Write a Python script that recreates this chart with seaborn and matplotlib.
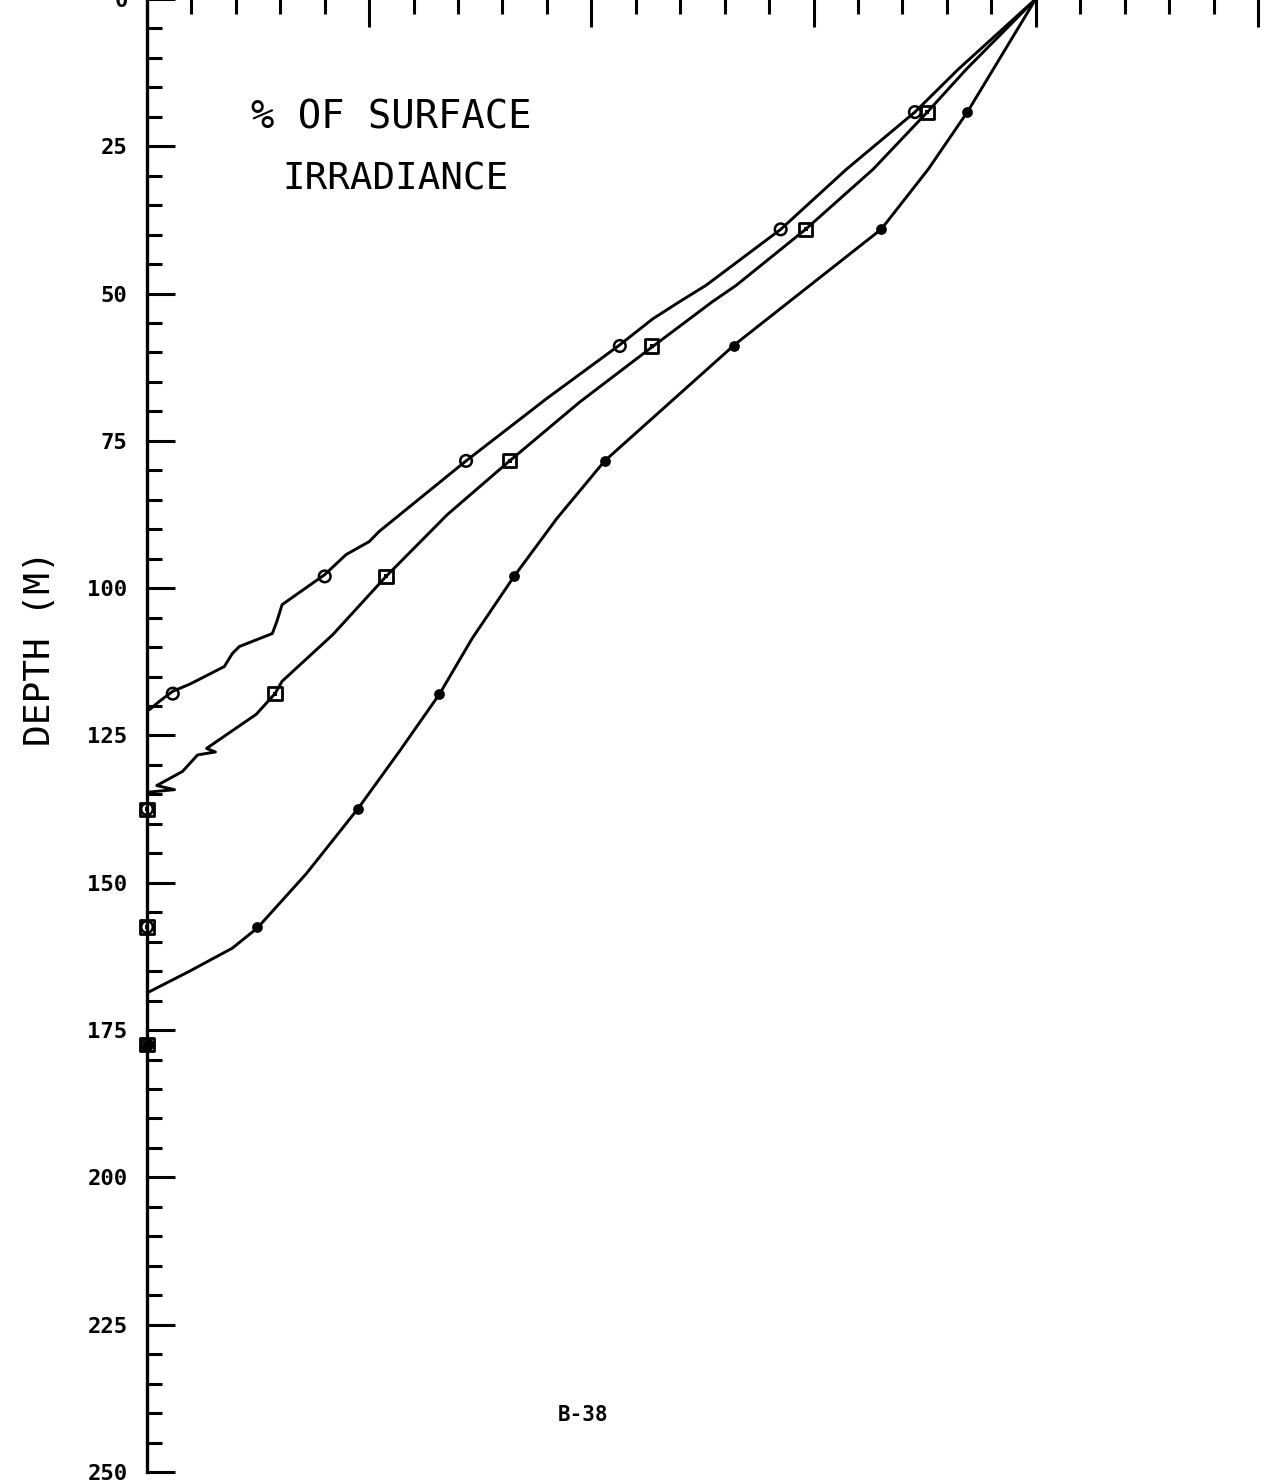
import matplotlib
matplotlib.use("Agg")
import matplotlib.pyplot as plt
import seaborn as sns
from matplotlib.ticker import MultipleLocator

sns.set_theme(style="white")
plt.rcParams['font.family'] = ['DejaVu Sans Mono', 'DejaVu Sans']

# profiles: % of surface irradiance vs depth (m)
DEPTH_1 = [0, 11.9, 19.2, 28.9, 39.1, 48.6, 51.4, 54.3, 58.7, 67.9, 78.4, 90.4, 92.1, 94.3,
           97.7, 102.8, 105.7, 107.7, 109.9, 111.1, 113.3, 115.0, 116.3, 117.5, 119.2, 120.6]
PCT_1 = [100, 91.3, 86.4, 78.7, 71.3, 62.9, 59.9, 56.9, 53.2, 44.9, 35.9, 26.1, 25.0, 22.4,
         20.0, 15.2, 14.6, 14.1, 10.4, 9.6, 8.7, 6.5, 4.8, 2.9, 1.4, 0.3]

DEPTH_2 = [0, 11.9, 19.2, 28.9, 39.1, 48.6, 51.4, 59.1, 68.4, 78.4, 87.5, 98.0, 107.9, 115.8,
           117.9, 121.4, 127.2, 127.8, 128.3, 131.1, 133.5, 134.2, 134.6]
PCT_2 = [100, 92.2, 87.8, 81.7, 74.1, 66.3, 63.6, 56.8, 48.7, 40.8, 33.8, 26.9, 20.9, 15.2,
         14.4, 12.3, 6.7, 7.7, 5.7, 4.0, 1.1, 3.1, 0.3]

DEPTH_3 = [0, 19.2, 28.9, 39.1, 48.6, 58.7, 78.4, 88.2, 98.0, 108.5, 118.0, 127.7,
           137.5, 148.5, 157.7, 161.1, 165.0, 168.7]
PCT_3 = [100, 92.3, 87.9, 82.6, 74.6, 66.1, 51.5, 46.1, 41.3, 36.6, 32.9, 28.4,
         23.7, 17.9, 12.4, 9.6, 4.8, 0]

# sampled stations (markers)
MARK_DEPTH = [19.2, 39.1, 58.9, 78.4, 98.0, 117.9, 137.5, 157.5, 177.5]
MARK_1 = [86.4, 71.3, 53.2, 35.9, 20.0, 2.9, 0, 0, 0]
MARK_2 = [87.8, 74.1, 56.8, 40.8, 26.9, 14.4, 0, 0, 0]
MARK_3 = [92.3, 82.6, 66.1, 51.5, 41.3, 32.9, 23.7, 12.4, 0]

DEPTH_TICKS = [0, 25, 50, 75, 100, 125, 150, 175, 200, 225, 250]

fig = plt.figure(figsize=(12.77, 14.84), dpi=100)
ax = fig.add_axes([0.1151, 0.0081, 0.8700, 0.9926])

for pct, dep in [(PCT_1, DEPTH_1), (PCT_2, DEPTH_2), (PCT_3, DEPTH_3)]:
    sns.lineplot(x=pct, y=dep, sort=False, estimator=None, color='black', lw=2.1, ax=ax)

sns.scatterplot(x=MARK_1, y=MARK_DEPTH, marker='o', s=70, facecolors='none',
                edgecolor='black', linewidth=1.8, ax=ax, clip_on=False, zorder=5)
sns.scatterplot(x=MARK_2, y=MARK_DEPTH, marker='s', s=90, facecolors='none',
                edgecolor='black', linewidth=2.0, ax=ax, clip_on=False, zorder=5)
sns.scatterplot(x=MARK_2, y=MARK_DEPTH, marker='s', s=8, color='black',
                linewidth=0, ax=ax, clip_on=False, zorder=6)
sns.scatterplot(x=MARK_3, y=MARK_DEPTH, marker='o', s=60, color='black',
                linewidth=0, ax=ax, clip_on=False, zorder=5)

ax.set_xlim(0, 125)
ax.set_ylim(250, 0)
ax.xaxis.tick_top()
ax.xaxis.set_major_locator(MultipleLocator(25))
ax.xaxis.set_minor_locator(MultipleLocator(5))
ax.set_yticks(DEPTH_TICKS)
ax.yaxis.set_minor_locator(MultipleLocator(5))
ax.tick_params(axis='x', which='both', direction='in', top=True, bottom=False,
               labeltop=False, labelbottom=False)
ax.tick_params(axis='y', which='both', direction='in', left=True, right=False, pad=14)
ax.tick_params(which='major', length=20, width=2.2, color='black')
ax.tick_params(which='minor', length=11, width=2.2, color='black')
for lab in ax.get_yticklabels():
    lab.set_fontsize(16)
    lab.set_fontweight('bold')
    lab.set_color('black')

ax.spines['right'].set_visible(False)
ax.spines['bottom'].set_visible(False)
for side in ['left', 'top']:
    ax.spines[side].set_linewidth(2.4)
    ax.spines[side].set_color('black')
ax.grid(False)
ax.set_xlabel('')
ax.set_ylabel('')

ax.text(27.5, 20.2, '% OF SURFACE', fontsize=28, ha='center', va='center', color='black')
ax.text(28.0, 30.7, 'IRRADIANCE', fontsize=27, ha='center', va='center', color='black')

fig.text(40 / 1277, 1 - 648 / 1484, 'DEPTH (M)', rotation=90, fontsize=26,
         ha='center', va='center', color='black')
fig.text(583 / 1277, 1 - 1415 / 1484, 'B-38', fontsize=15, fontweight='bold',
         ha='center', va='center', color='black')

fig.savefig('out.png', dpi=100, facecolor='white')
